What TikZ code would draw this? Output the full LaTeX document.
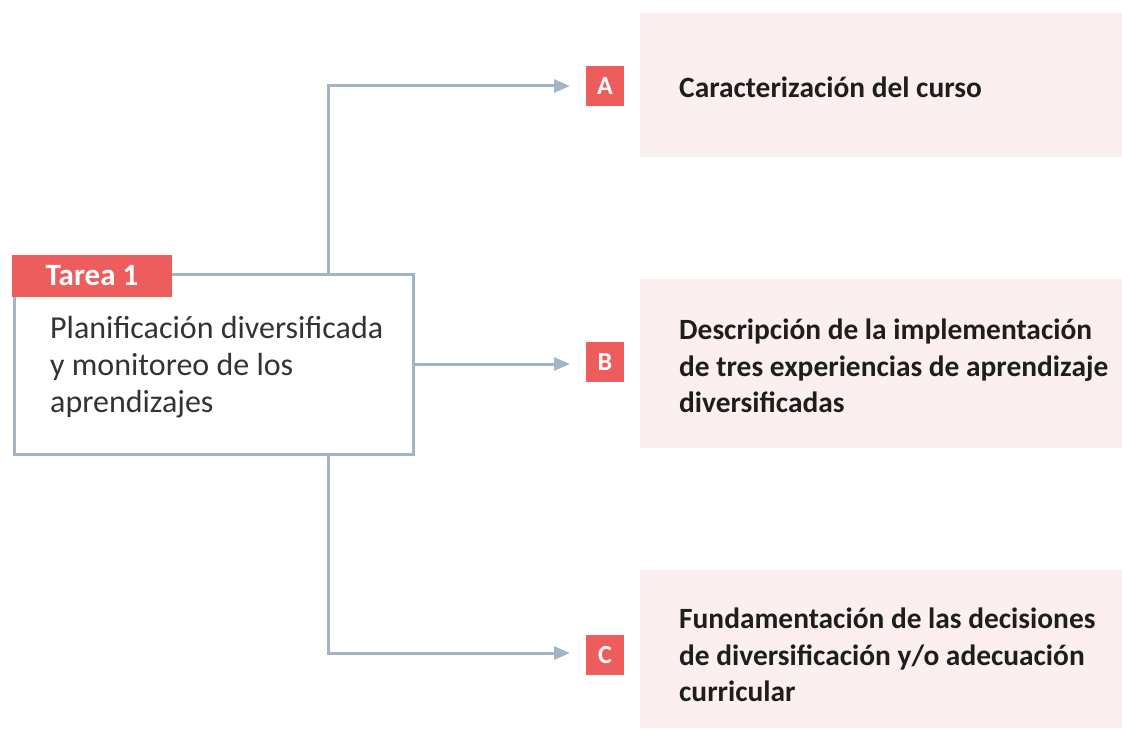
\documentclass[tikz,border=0pt]{standalone}
\usepackage{fontspec}
\setmainfont{Carlito}
\usetikzlibrary{arrows.meta}
\definecolor{linec}{HTML}{A3B4C6}
\definecolor{redc}{HTML}{EE5D5E}
\definecolor{pinkc}{HTML}{FBEFEF}
\definecolor{txtc}{HTML}{333333}
\definecolor{boldc}{HTML}{1E1E1E}
\tikzset{
  taskbox/.style={draw=linec, line width=3pt, fill=white, minimum width=399pt, minimum height=180pt, inner sep=0pt},
  tagbox/.style={fill=redc, text=white, font=\fontsize{31}{34}\selectfont\bfseries, minimum width=160pt, minimum height=42pt, inner sep=0pt},
  panel/.style={fill=pinkc, minimum width=482pt, inner sep=0pt},
  badge/.style={fill=redc, text=white, font=\fontsize{26}{28}\selectfont\bfseries, minimum width=38pt, minimum height=40pt, inner sep=0pt},
  ptext/.style={anchor=west, align=left, text=boldc, inner sep=0pt, font=\fontsize{29.4}{36.5}\selectfont\bfseries},
  mtext/.style={anchor=west, align=left, text=txtc, inner sep=0pt, font=\fontsize{32}{37}\selectfont},
  conn/.style={draw=linec, line width=3pt, -{Triangle[length=16pt,width=13pt]}}
}
\begin{document}
\begin{tikzpicture}[x=1pt,y=-1pt]
\useasboundingbox (0,0) rectangle (1122,730);
% panels
\node[panel, minimum height=144pt] (pA) at (881,85) {};
\node[panel, minimum height=169pt] (pB) at (881,363.5) {};
\node[panel, minimum height=158pt] (pC) at (881,649) {};
\node[ptext] (tA) at (679,87) {Caracterización del curso};
\node[ptext] (tB) at (679,366) {Descripción de la implementación\\de tres experiencias de aprendizaje\\diversificadas};
\node[ptext] (tC) at (679,655) {Fundamentación de las decisiones\\de diversificación y/o adecuación\\curricular};
% badges
\node[badge] (bA) at (605,86) {A};
\node[badge] (bB) at (605,362) {B};
\node[badge] (bC) at (605,655) {C};
% task
\node[taskbox] (task) at (213.5,364) {};
\node[tagbox] (tag) at (92,276) {Tarea 1};
\node[mtext] (mt) at (50,367) {Planificación diversificada\\y monitoreo de los\\aprendizajes};
% connectors
\coordinate (trunk) at (328,0);
\coordinate (eA) at (570,86);
\coordinate (eB) at (570,364);
\coordinate (eC) at (570,653);
\draw[conn] (task.north -| trunk) |- (eA);
\draw[conn] (task.east) -- (eB);
\draw[conn] (task.south -| trunk) |- (eC);
\end{tikzpicture}
\end{document}
